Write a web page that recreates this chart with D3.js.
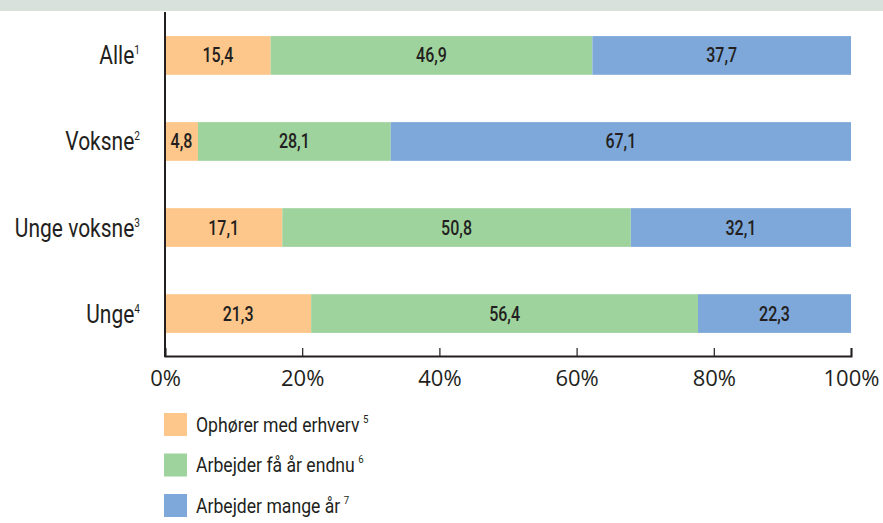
<!DOCTYPE html>
<html>
<head>
<meta charset="utf-8">
<script src="https://cdn.jsdelivr.net/npm/d3@7"></script>
<style>
  body { margin: 0; background: #fff; }
  .narrow { font-family: Roboto, "Noto Sans", sans-serif; fill: #231f20; }
  .tick text { font-family: "Open Sans", "Noto Sans", sans-serif; fill: #231f20; }
</style>
</head>
<body>
<div id="chart"></div>
<script>
// --- data ---
const categories = ["Alle", "Voksne", "Unge voksne", "Unge"];
const footnotes = ["1", "2", "3", "4"];
const seriesNames = ["Ophører med erhverv", "Arbejder få år endnu", "Arbejder mange år"];
const seriesNotes = ["5", "6", "7"];
const seriesColors = ["#fdc68a", "#9fd39e", "#7ea8d9"];
const stopWork = [15.4, 4.8, 17.1, 21.3];
const fewYears = [46.9, 28.1, 50.8, 56.4];
const manyYears = [37.7, 67.1, 32.1, 22.3];
const xTicks = [0, 20, 40, 60, 80, 100];

const width = 883, height = 523;
const svg = d3.select("#chart").append("svg").attr("width", width).attr("height", height);

// condensed look: squeeze text horizontally
function narrowText(px, py, size, sx) {
  return svg.append("g").attr("transform", `translate(${px},${py}) scale(${sx || 0.82},1)`)
    .append("text").attr("class", "narrow").attr("font-size", size);
}

// grey band at top
svg.append("rect").attr("x", 0).attr("y", 0).attr("width", width).attr("height", 11).attr("fill", "#d8e1dc");

const x = d3.scaleLinear().domain([0, 100]).range([165, 851]);
const y = d3.scaleBand().domain(categories).range([12, 357]).paddingInner(0.55).paddingOuter(0.28);

const rows = categories.map((c, i) => ({ cat: c, vals: [stopWork[i], fewYears[i], manyYears[i]] }));
const fmt = v => d3.format(".1f")(v).replace(".", ",");

rows.forEach(r => {
  let acc = 0;
  r.vals.forEach((v, j) => {
    const x0 = acc, x1 = acc + v;
    acc = x1;
    svg.append("rect")
      .attr("x", x(x0)).attr("y", y(r.cat))
      .attr("width", x(Math.min(x1, 100)) - x(x0)).attr("height", y.bandwidth())
      .attr("fill", seriesColors[j]);
    narrowText((x(x0) + x(Math.min(x1, 100))) / 2, y(r.cat) + y.bandwidth() / 2 + 7, 20, 0.8)
      .attr("text-anchor", "middle").attr("font-weight", 500)
      .text(fmt(v));
  });
});

// category labels
categories.forEach((c, i) => {
  const t = narrowText(140, y(c) + y.bandwidth() / 2 + 9, 25, 0.84).attr("text-anchor", "end");
  t.append("tspan").text(c);
  t.append("tspan").attr("font-size", 12).attr("dy", -10).text(footnotes[i]);
});

// x axis with inward ticks
const xAxis = svg.append("g").attr("transform", "translate(0,356)")
  .call(d3.axisBottom(x).tickValues(xTicks).tickFormat(d => d + "%").tickSize(-8).tickPadding(14));
xAxis.select(".domain").attr("stroke", "#231f20").attr("stroke-width", 2);
xAxis.selectAll(".tick line").attr("stroke", "#231f20").attr("stroke-width", 1.2);
xAxis.selectAll(".tick text").attr("font-size", 22).attr("dy", "0.71em");

// vertical axis line
svg.append("line").attr("x1", 165).attr("x2", 165).attr("y1", 12).attr("y2", 357)
  .attr("stroke", "#231f20").attr("stroke-width", 2);

// legend
seriesNames.forEach((n, j) => {
  const ly = 413 + j * 40.5;
  svg.append("rect").attr("x", 164).attr("y", ly).attr("width", 23).attr("height", 23).attr("fill", seriesColors[j]);
  const t = narrowText(196, ly + 18.5, 20, 0.88);
  t.append("tspan").text(n);
  t.append("tspan").attr("font-size", 11).attr("dx", 4).attr("dy", -9).text(seriesNotes[j]);
});
</script>
</body>
</html>
